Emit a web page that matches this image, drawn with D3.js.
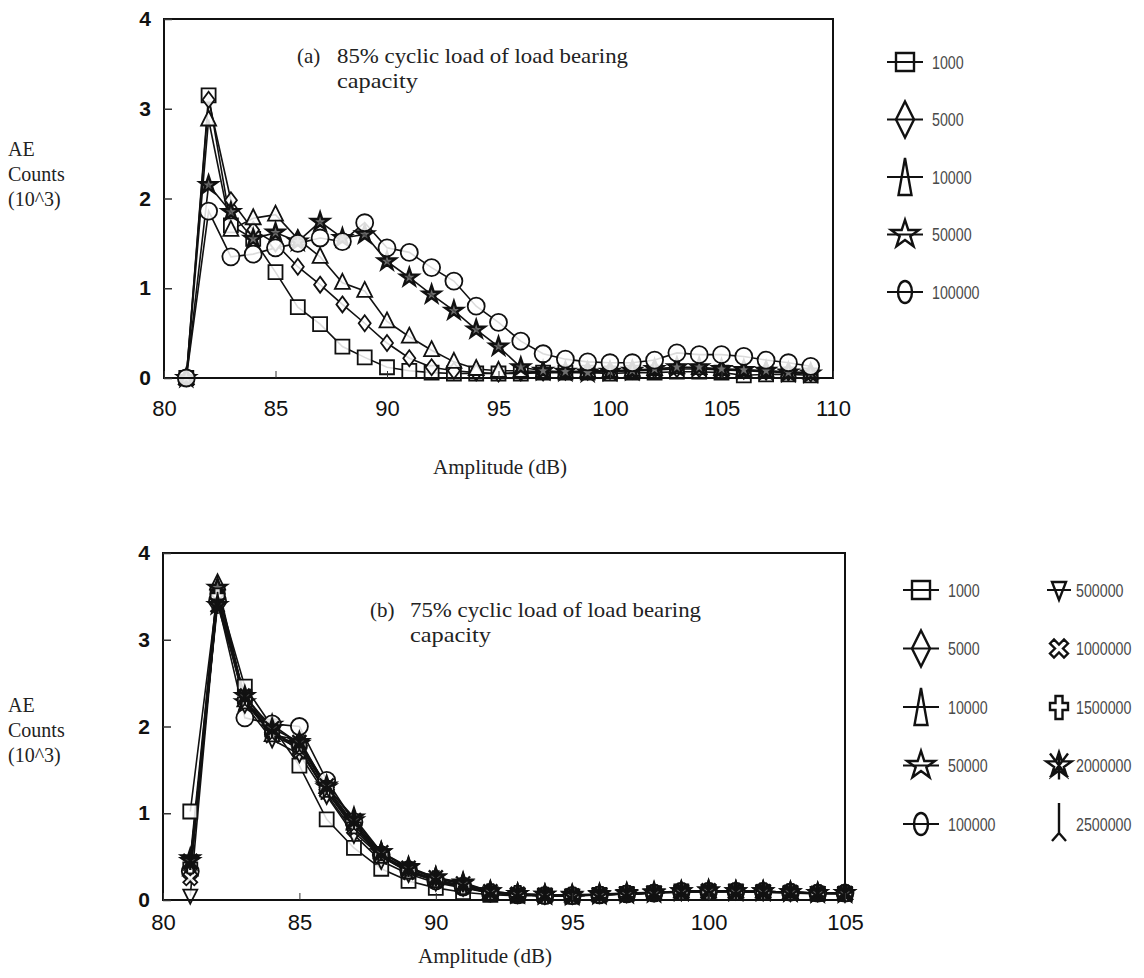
<!DOCTYPE html>
<html>
<head>
<meta charset="utf-8">
<script src="https://cdn.jsdelivr.net/npm/d3@7"></script>
<style>
  body { margin: 0; background: #fff; }
  svg { display: block; }
  .tick text { font-family: "Liberation Sans", Arial, sans-serif; }
  .serif { font-family: "Liberation Serif", "Times New Roman", serif; fill: #222; }
  .legendtext { font-family: "Liberation Sans", Arial, sans-serif; fill: #4a4a4a; }
</style>
</head>
<body>
<svg id="chart" width="1144" height="978"></svg>
<script>
var svg = d3.select("#chart");

// ---- data: (a) 85% load, amplitude 81..109 dB
var ampA = [81,82,83,84,85,86,87,88,89,90,91,92,93,94,95,96,97,98,99,100,101,102,103,104,105,106,107,108,109];
var a1000   = [0,3.15,1.7,1.55,1.18,0.79,0.6,0.35,0.23,0.12,0.08,0.06,0.05,0.05,0.05,0.05,0.06,0.06,0.06,0.05,0.06,0.06,0.07,0.07,0.06,0.03,0.04,0.04,0.03];
var a5000   = [0,3.1,1.98,1.65,1.5,1.24,1.04,0.82,0.61,0.39,0.22,0.12,0.08,0.06,0.05,0.06,0.06,0.07,0.07,0.08,0.08,0.09,0.1,0.1,0.09,0.08,0.07,0.06,0.05];
var a10000  = [0,2.88,1.65,1.78,1.82,1.55,1.35,1.06,0.97,0.63,0.46,0.31,0.18,0.1,0.08,0.08,0.07,0.07,0.08,0.08,0.09,0.1,0.12,0.11,0.1,0.09,0.08,0.07,0.06];
var a50000  = [0,2.15,1.85,1.55,1.62,1.52,1.74,1.56,1.6,1.3,1.12,0.93,0.75,0.54,0.35,0.12,0.08,0.07,0.06,0.07,0.08,0.1,0.12,0.12,0.1,0.09,0.08,0.06,0.05];
var a100000 = [0,1.86,1.35,1.38,1.45,1.5,1.56,1.52,1.73,1.45,1.4,1.23,1.08,0.8,0.62,0.41,0.27,0.21,0.18,0.17,0.17,0.2,0.28,0.26,0.26,0.24,0.2,0.17,0.13];

// ---- data: (b) 75% load, amplitude 81..105 dB
var ampB = [81,82,83,84,85,86,87,88,89,90,91,92,93,94,95,96,97,98,99,100,101,102,103,104,105];
var b1000    = [1.02,3.55,2.46,2.0,1.55,0.93,0.6,0.36,0.22,0.14,0.09,0.06,0.05,0.05,0.04,0.06,0.07,0.08,0.1,0.09,0.1,0.09,0.08,0.07,0.07];
var b5000    = [0.3,3.6,2.3,1.95,1.75,1.22,0.78,0.5,0.33,0.22,0.15,0.08,0.06,0.05,0.05,0.06,0.07,0.08,0.09,0.1,0.1,0.09,0.09,0.08,0.08];
var b10000   = [0.35,3.65,2.3,1.9,1.85,1.3,0.88,0.55,0.36,0.25,0.18,0.09,0.07,0.06,0.05,0.06,0.07,0.08,0.1,0.1,0.1,0.1,0.09,0.08,0.08];
var b50000   = [0.48,3.6,2.28,2.02,1.8,1.3,0.95,0.55,0.38,0.26,0.2,0.1,0.07,0.06,0.06,0.07,0.08,0.09,0.1,0.11,0.1,0.1,0.09,0.08,0.08];
var b100000  = [0.33,3.45,2.1,2.03,2.0,1.38,0.9,0.52,0.35,0.22,0.15,0.08,0.06,0.05,0.05,0.06,0.07,0.08,0.1,0.1,0.1,0.1,0.09,0.08,0.08];
var b500000  = [0.05,3.5,2.25,1.85,1.68,1.2,0.75,0.45,0.3,0.2,0.14,0.08,0.06,0.05,0.05,0.06,0.07,0.08,0.09,0.1,0.1,0.09,0.08,0.08,0.07];
var b1000000 = [0.25,3.48,2.35,1.95,1.72,1.25,0.82,0.5,0.32,0.22,0.15,0.09,0.06,0.05,0.05,0.06,0.07,0.08,0.1,0.1,0.1,0.09,0.09,0.08,0.08];
var b1500000 = [0.4,3.5,2.3,1.92,1.78,1.28,0.86,0.52,0.34,0.24,0.16,0.09,0.07,0.05,0.05,0.06,0.07,0.08,0.1,0.1,0.1,0.1,0.09,0.08,0.08];
var b2000000 = [0.45,3.4,2.35,1.98,1.82,1.32,0.92,0.55,0.37,0.26,0.19,0.1,0.07,0.06,0.05,0.06,0.07,0.08,0.1,0.11,0.1,0.1,0.09,0.08,0.08];
var b2500000 = [0.42,3.45,2.28,1.9,1.75,1.25,0.85,0.5,0.33,0.23,0.16,0.09,0.06,0.05,0.05,0.06,0.07,0.08,0.1,0.1,0.1,0.09,0.09,0.08,0.08];

var yTicks = [0,1,2,3,4];
var xTicksA = [80,85,90,95,100,105,110];
var xTicksB = [80,85,90,95,100,105];

// marker paths, centred at 0,0 (plot-size and legend-size)
var shapes = {
  square:  { plot: "M-7,-7H7V7H-7Z", leg: "M-9,-9H9V9H-9Z", line: true },
  diamond: { plot: "M0,-8L6,0L0,8L-6,0Z", leg: "M0,-18L9,0L0,18L-9,0Z", line: true },
  tri:     { plot: "M0,-9L7.5,6L-7.5,6Z", leg: "M0,-19L6.5,18L-6.5,18Z", line: true },
  star:    { plot: d3.symbol(d3.symbolStar, 95)(), leg: d3.symbol(d3.symbolStar, 240)(), line: true },
  circle:  { plot: "M-8.5,0A8.5,8.5 0 1,0 8.5,0A8.5,8.5 0 1,0 -8.5,0Z", leg: "M-7,0A7,11 0 1,0 7,0A7,11 0 1,0 -7,0Z", line: true },
  dtri:    { plot: "M0,8L7,-6L-7,-6Z", leg: "M-7,-8L7,-8L0,10Z", line: true },
  xcross:  { plot: "M-7,-4L-4,-7L0,-3L4,-7L7,-4L3,0L7,4L4,7L0,3L-4,7L-7,4L-3,0Z",
             leg: "M-9,-5L-5,-9L0,-4L5,-9L9,-5L4,0L9,5L5,9L0,4L-5,9L-9,5L-4,0Z", line: false },
  cross:   { plot: "M-3,-8H3V-3H7V3H3V8H-3V3H-7V-3H-3Z", leg: "M-3.5,-11H3.5V-4H9V3H3.5V12H-3.5V3H-9V-4H-3.5Z", line: false },
  aster:   { plot: d3.symbol(d3.symbolStar, 95)() + "M-7,-7L7,7M7,-7L-7,7M0,-9V9",
             leg: d3.symbol(d3.symbolStar, 200)() + "M-9,-12L9,12M9,-12L-9,12M0,-14V14", line: false },
  wye:     { plot: "M0,-9V2L-6,8M0,2L6,8", leg: "M0,-21V9L-7,17M0,9L7,17", line: false }
};

function drawPanel(opt) {
  var x = d3.scaleLinear().domain(opt.xDomain).range(opt.xRange);
  var y = d3.scaleLinear().domain([0, 4]).range(opt.yRange);
  var g = svg.append("g");

  // series lines then markers
  var line = d3.line()
    .x(function(d) { return x(d[0]); })
    .y(function(d) { return y(d[1]); });

  opt.series.forEach(function(s) {
    var pts = opt.amp.map(function(a, i) { return [a, s.values[i]]; });
    g.append("path")
      .datum(pts)
      .attr("d", line)
      .attr("fill", "none")
      .attr("stroke", "#111")
      .attr("stroke-width", 1.6);
  });
  opt.series.forEach(function(s) {
    var pts = opt.amp.map(function(a, i) { return [a, s.values[i]]; });
    var heavy = s.shape == "star" || s.shape == "aster";
    g.selectAll(null)
      .data(pts)
      .enter().append("path")
      .attr("transform", function(d) { return "translate(" + x(d[0]) + "," + y(d[1]) + ")"; })
      .attr("d", shapes[s.shape].plot)
      .attr("fill", s.shape == "wye" ? "none" : (heavy ? "#555" : "#fff"))
      .attr("fill-opacity", 0.85)
      .attr("stroke", "#111")
      .attr("stroke-width", heavy ? 2.4 : 1.8);
  });

  // frame
  g.append("rect")
    .attr("x", opt.xRange[0]).attr("y", opt.yRange[1])
    .attr("width", opt.xRange[1] - opt.xRange[0])
    .attr("height", opt.yRange[0] - opt.yRange[1])
    .attr("fill", "none").attr("stroke", "#111").attr("stroke-width", 2);

  // axes
  g.append("g")
    .attr("transform", "translate(0," + opt.yRange[0] + ")")
    .call(d3.axisBottom(x).tickValues(opt.xTicks).tickSize(-7).tickPadding(opt.xPad).tickFormat(d3.format("d")))
    .call(function(a) {
      a.select(".domain").remove();
      a.selectAll(".tick line").attr("stroke", "#333");
      a.selectAll(".tick text").attr("font-size", 22).attr("fill", "#111");
    });
  g.append("g")
    .attr("transform", "translate(" + opt.xRange[0] + ",0)")
    .call(d3.axisLeft(y).tickValues(yTicks).tickSize(-8).tickPadding(13).tickFormat(d3.format("d")))
    .call(function(a) {
      a.select(".domain").remove();
      a.selectAll(".tick line").attr("stroke", "#333").attr("stroke-width", 1.5);
      a.selectAll(".tick text").attr("font-size", 21).attr("font-weight", "bold").attr("fill", "#111");
    });

  // panel caption
  g.append("text").attr("class", "serif").attr("x", opt.capX).attr("y", opt.capY)
    .attr("font-size", 21).text(opt.tag);
  g.append("text").attr("class", "serif").attr("x", opt.capX + 40).attr("y", opt.capY)
    .attr("font-size", 21).attr("textLength", 291).attr("lengthAdjust", "spacingAndGlyphs")
    .text(opt.caption);
  g.append("text").attr("class", "serif").attr("x", opt.capX + 40).attr("y", opt.capY + 25)
    .attr("font-size", 21).attr("textLength", 81).attr("lengthAdjust", "spacingAndGlyphs")
    .text("capacity");

  // axis titles
  g.append("text").attr("class", "serif")
    .attr("x", opt.xTitle[0]).attr("y", opt.xTitle[1])
    .attr("text-anchor", "middle").attr("font-size", 20)
    .attr("textLength", 134).attr("lengthAdjust", "spacingAndGlyphs")
    .text("Amplitude (dB)");
  ["AE", "Counts", "(10^3)"].forEach(function(t, i) {
    g.append("text").attr("class", "serif")
      .attr("x", 8).attr("y", opt.yTitleY + i * 25)
      .attr("font-size", 20).text(t);
  });

  // legend
  opt.legend.forEach(function(col) {
    col.items.forEach(function(it, i) {
      var cy = col.y0 + i * col.dy;
      var sh = shapes[it.shape];
      if (sh.line) {
        g.append("line")
          .attr("x1", col.x - col.half).attr("x2", col.x + col.half)
          .attr("y1", cy).attr("y2", cy)
          .attr("stroke", "#111").attr("stroke-width", 2);
      }
      g.append("path")
        .attr("transform", "translate(" + col.x + "," + cy + ")")
        .attr("d", sh.leg)
        .attr("fill", "none")
        .attr("stroke", "#111")
        .attr("stroke-width", 2.4);
      // condensed look: squeeze the label horizontally
      g.append("text").attr("class", "legendtext")
        .attr("transform", "translate(" + col.tx + "," + cy + ") scale(0.75,1)")
        .attr("dy", "0.35em")
        .attr("font-size", 19)
        .text(it.label);
    });
  });
}

drawPanel({
  amp: ampA,
  xDomain: [80, 110], xRange: [164, 833], yRange: [378, 19],
  xTicks: xTicksA, xPad: 22,
  series: [
    { values: a1000, shape: "square" },
    { values: a5000, shape: "diamond" },
    { values: a10000, shape: "tri" },
    { values: a50000, shape: "star" },
    { values: a100000, shape: "circle" }
  ],
  tag: "(a)", caption: "85% cyclic load of load bearing", capX: 297, capY: 63,
  xTitle: [500, 474], yTitleY: 156,
  legend: [
    { x: 905, tx: 932, y0: 62, dy: 57.5, half: 18, items: [
      { shape: "square", label: "1000" }, { shape: "diamond", label: "5000" },
      { shape: "tri", label: "10000" }, { shape: "star", label: "50000" },
      { shape: "circle", label: "100000" } ] }
  ]
});

drawPanel({
  amp: ampB,
  xDomain: [80, 105], xRange: [163, 845], yRange: [900, 553],
  xTicks: xTicksB, xPad: 14,
  series: [
    { values: b1000, shape: "square" },
    { values: b5000, shape: "diamond" },
    { values: b10000, shape: "tri" },
    { values: b50000, shape: "star" },
    { values: b100000, shape: "circle" },
    { values: b500000, shape: "dtri" },
    { values: b1000000, shape: "xcross" },
    { values: b1500000, shape: "cross" },
    { values: b2000000, shape: "aster" },
    { values: b2500000, shape: "wye" }
  ],
  tag: "(b)", caption: "75% cyclic load of load bearing", capX: 370, capY: 617,
  xTitle: [485, 963], yTitleY: 712,
  legend: [
    { x: 921, tx: 948, y0: 590, dy: 58.5, half: 18, items: [
      { shape: "square", label: "1000" }, { shape: "diamond", label: "5000" },
      { shape: "tri", label: "10000" }, { shape: "star", label: "50000" },
      { shape: "circle", label: "100000" } ] },
    { x: 1059, tx: 1076, y0: 590, dy: 58.5, half: 12, items: [
      { shape: "dtri", label: "500000" }, { shape: "xcross", label: "1000000" },
      { shape: "cross", label: "1500000" }, { shape: "aster", label: "2000000" },
      { shape: "wye", label: "2500000" } ] }
  ]
});
</script>
</body>
</html>
